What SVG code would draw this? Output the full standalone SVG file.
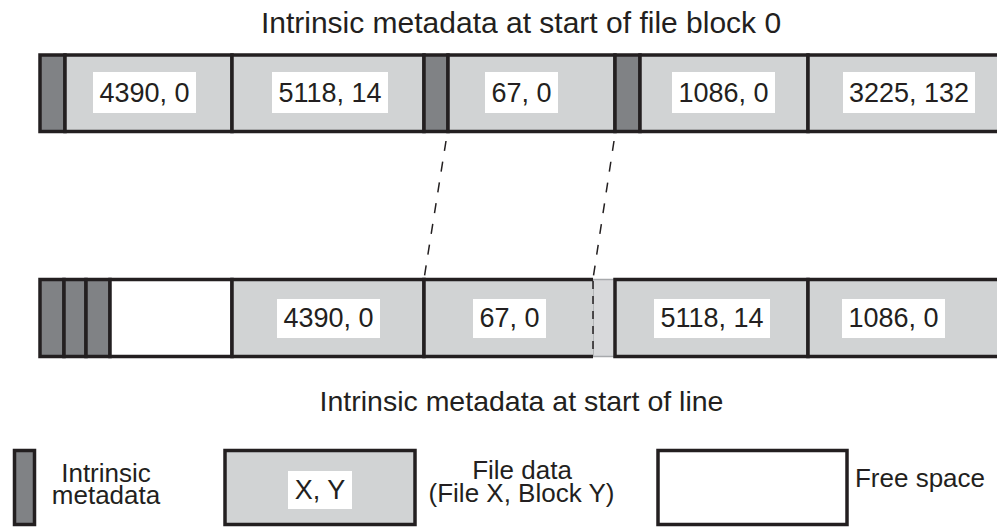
<svg xmlns="http://www.w3.org/2000/svg" width="997" height="527" viewBox="0 0 997 527">
<style>
.meta{fill:#808285;stroke:#231f20;stroke-width:3.5}
.data{fill:#d1d3d4;stroke:#231f20;stroke-width:3.5}
.free{fill:#ffffff;stroke:#231f20;stroke-width:3.5}
.lbl{fill:#ffffff;stroke:none}
.t{font-family:"Liberation Sans",Arial,sans-serif;fill:#231f20;text-anchor:middle}
.big{font-size:30px}
.big2{font-size:28.5px}
.cell{font-size:27px}
.leg{font-size:26px}
.dash{fill:none;stroke:#231f20;stroke-width:1.5;stroke-dasharray:10 11}
</style>
<rect width="997" height="527" fill="#ffffff"/>
<text class="t big" x="521" y="33">Intrinsic metadata at start of file block 0</text>
<g id="top-row">
  <g id="top-meta-1"><rect class="meta" x="40" y="55" width="25" height="76.5"/></g>
  <g id="top-4390-0"><rect class="data" x="65" y="55" width="167" height="76.5"/><rect class="lbl" x="93" y="72" width="103" height="41"/><text class="t cell" x="144.5" y="102">4390, 0</text></g>
  <g id="top-5118-14"><rect class="data" x="232" y="55" width="192" height="76.5"/><rect class="lbl" x="272" y="72" width="116" height="41"/><text class="t cell" x="330" y="102">5118, 14</text></g>
  <g id="top-meta-2"><rect class="meta" x="424" y="55" width="24" height="76.5"/></g>
  <g id="top-67-0"><rect class="data" x="448" y="55" width="167" height="76.5"/><rect class="lbl" x="485" y="72" width="73" height="41"/><text class="t cell" x="521.5" y="102">67, 0</text></g>
  <g id="top-meta-3"><rect class="meta" x="615" y="55" width="25" height="76.5"/></g>
  <g id="top-1086-0"><rect class="data" x="640" y="55" width="168" height="76.5"/><rect class="lbl" x="672" y="72" width="103" height="41"/><text class="t cell" x="723.5" y="102">1086, 0</text></g>
  <g id="top-3225-132"><rect class="data" x="808" y="55" width="200" height="76.5"/><rect class="lbl" x="843" y="72" width="132" height="41"/><text class="t cell" x="909" y="102">3225, 132</text></g>
</g>
<g id="connectors">
  <line class="dash" x1="446" y1="141" x2="424" y2="279"/>
  <line class="dash" x1="614" y1="141" x2="593" y2="279"/>
</g>
<g id="bottom-row">
  <g id="bot-meta-1"><rect class="meta" x="40" y="279.5" width="24" height="77"/></g>
  <g id="bot-meta-2"><rect class="meta" x="64" y="279.5" width="22" height="77"/></g>
  <g id="bot-meta-3"><rect class="meta" x="86" y="279.5" width="24" height="77"/></g>
  <g id="bot-free"><rect class="free" x="110" y="279.5" width="122" height="77"/></g>
  <g id="bot-4390-0"><rect class="data" x="232" y="279.5" width="192" height="77"/><rect class="lbl" x="277" y="299" width="103" height="39"/><text class="t cell" x="328.5" y="327">4390, 0</text></g>
  <g id="bot-split"><rect x="593" y="279.5" width="22" height="77" fill="#d8d9db" stroke="#a7a9ac" stroke-width="1.5"/></g>
  <g id="bot-67-0"><rect x="424" y="279.5" width="169" height="77" fill="#d1d3d4"/><path d="M593 279.5H424V356.5H593" fill="none" stroke="#231f20" stroke-width="3.5"/><line x1="593" y1="281" x2="593" y2="356" fill="none" stroke="#231f20" stroke-width="1.5" stroke-dasharray="8 7"/><rect class="lbl" x="473" y="299" width="73" height="39"/><text class="t cell" x="509.5" y="327">67, 0</text></g>
  <g id="bot-5118-14"><rect class="data" x="615" y="279.5" width="193" height="77"/><rect class="lbl" x="654" y="299" width="116" height="39"/><text class="t cell" x="712" y="327">5118, 14</text></g>
  <g id="bot-1086-0"><rect class="data" x="808" y="279.5" width="200" height="77"/><rect class="lbl" x="842" y="299" width="103" height="39"/><text class="t cell" x="893.5" y="327">1086, 0</text></g>
</g>
<text class="t big2" x="521.5" y="411">Intrinsic metadata at start of line</text>
<g id="legend-meta"><rect class="meta" x="14.5" y="450.5" width="20" height="74"/><text class="t leg" x="106" y="482">Intrinsic<tspan x="106" dy="22">metadata</tspan></text></g>
<g id="legend-data"><rect class="data" x="225" y="450.5" width="190" height="74"/><rect class="lbl" x="288" y="471" width="64" height="38"/><text class="t cell" x="320" y="499">X, Y</text><text class="t leg" x="522" y="479">File data<tspan x="521.5" dy="23">(File X, Block Y)</tspan></text></g>
<g id="legend-free"><rect class="free" x="658" y="450.5" width="189" height="74"/><text class="t leg" x="920" y="487">Free space</text></g>
</svg>
